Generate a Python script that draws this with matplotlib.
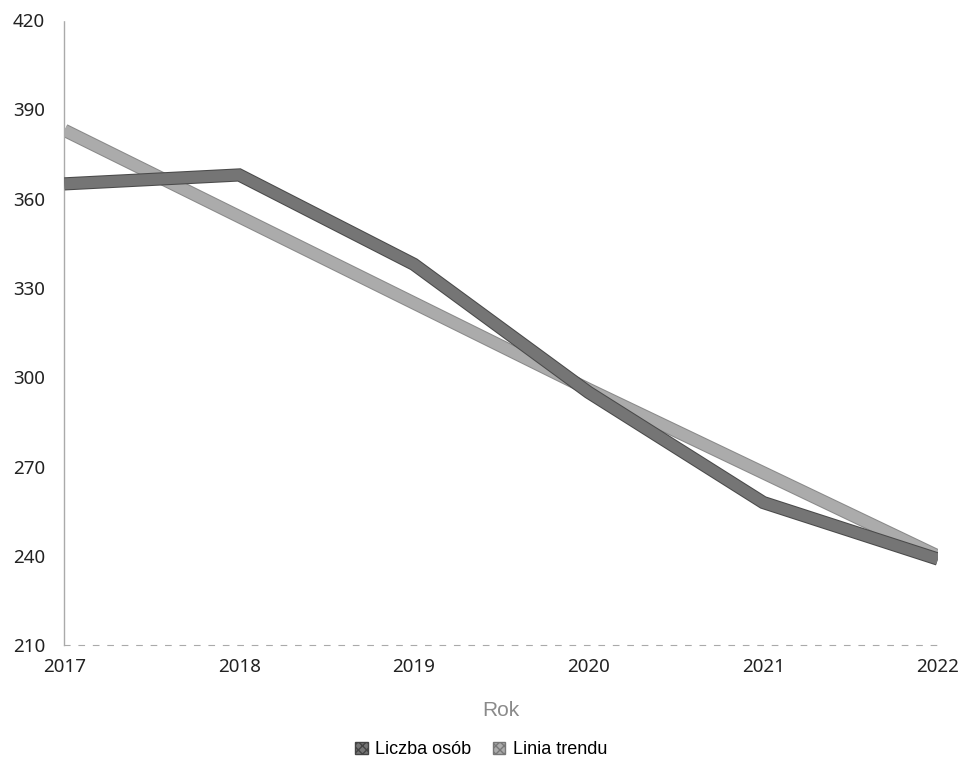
import matplotlib
matplotlib.use("Agg")
import matplotlib.pyplot as plt
import matplotlib.patheffects as pe
from matplotlib.patches import Patch

years = [2017, 2018, 2019, 2020, 2021, 2022]
liczba_osob = [365, 368, 338, 295, 258, 239]
linia_trendu = [383, 354, 325, 296, 268, 240]
y_ticks = [210, 240, 270, 300, 330, 360, 390, 420]

plt.rcParams['font.family'] = ['Noto Sans', 'DejaVu Sans']

fig = plt.figure(figsize=(9.62, 7.73), dpi=100)
ax = fig.add_axes([0.067, 0.165, 0.908, 0.809])

c_data = '#757575'
c_trend = '#ababab'

ax.plot(years, linia_trendu, color=c_trend, lw=8, solid_joinstyle='miter', solid_capstyle='butt', zorder=2,
        path_effects=[pe.Stroke(linewidth=9.5, foreground='#8a8a8a'), pe.Normal()])
ax.plot(years, liczba_osob, color=c_data, lw=8, solid_joinstyle='miter', solid_capstyle='butt', zorder=3,
        path_effects=[pe.Stroke(linewidth=9.5, foreground='#4a4a4a'), pe.Normal()])

ax.set_xlim(2017, 2022)
ax.set_ylim(210, 420)
ax.set_yticks(y_ticks)
ax.set_xticks(years)
ax.tick_params(length=0, labelsize=13.5, colors='#222222')
ax.tick_params(axis='y', pad=14)
ax.tick_params(axis='x', pad=9)

for s in ['top', 'right']:
    ax.spines[s].set_visible(False)
ax.spines['left'].set_color('#aaaaaa')
ax.spines['left'].set_linestyle((0, (2, 1)))
ax.spines['left'].set_linewidth(1)
ax.spines['bottom'].set_color('#aaaaaa')
ax.spines['bottom'].set_linestyle((0, (5, 8)))
ax.spines['bottom'].set_linewidth(0.8)

ax.set_xlabel('Rok', fontsize=15, color='#8a8a8a', labelpad=18, family=['Liberation Sans', 'DejaVu Sans'])

handles = [Patch(facecolor=c_data, edgecolor='#444444', hatch='xxxx', label='Liczba osób'),
           Patch(facecolor=c_trend, edgecolor='#777777', hatch='xxxx', label='Linia trendu')]
fig.legend(handles=handles, loc='center', bbox_to_anchor=(0.5, 0.03), ncol=2, frameon=False,
           handlelength=0.7, handleheight=0.6, handletextpad=0.4, columnspacing=1.2,
           prop={'family': ['Liberation Sans', 'DejaVu Sans'], 'size': 13})

fig.savefig('out.png', dpi=100, facecolor='white')
